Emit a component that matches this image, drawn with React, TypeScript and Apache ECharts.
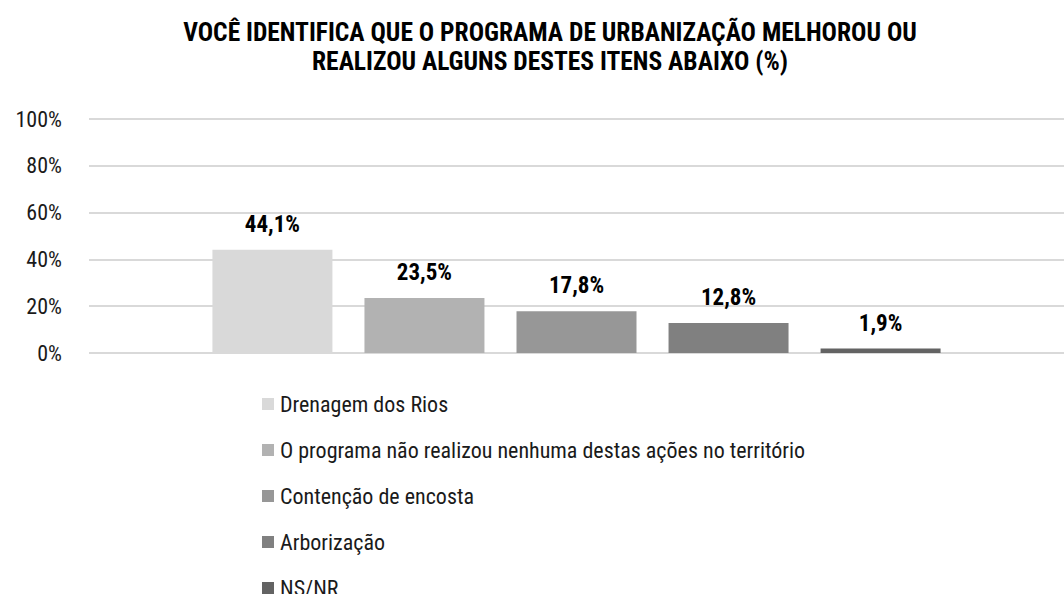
import React, { useEffect, useRef } from "react";
import * as echarts from "echarts";

const titleText =
  "VOCÊ IDENTIFICA QUE O PROGRAMA DE URBANIZAÇÃO MELHOROU OU\nREALIZOU ALGUNS DESTES ITENS ABAIXO (%)";
const seriesNames = [
  "Drenagem dos Rios",
  "O programa não realizou nenhuma destas ações no território",
  "Contenção de encosta",
  "Arborização",
  "NS/NR",
];
const seriesValues = [44.1, 23.5, 17.8, 12.8, 1.9];
const seriesColors = ["#d9d9d9", "#b2b2b2", "#979797", "#808080", "#636363"];
const yTicks = [0, 20, 40, 60, 80, 100];

const FONT = "'Roboto Condensed', 'DejaVu Sans Condensed', sans-serif";

export default function App() {
  const ref = useRef<HTMLDivElement>(null);
  useEffect(() => {
    if (!ref.current) return;
    const chart = echarts.init(ref.current, undefined, { renderer: "svg" });
    chart.setOption({
      animation: false,
      textStyle: { fontFamily: FONT },
      title: {
        text: titleText,
        left: 545,
        top: 12,
        textAlign: "center",
        textStyle: {
          fontFamily: FONT,
          fontSize: 25.5,
          fontWeight: "bold",
          color: "#000",
          lineHeight: 29,
        },
      },
      grid: { left: 89, width: 986, top: 119, bottom: 241 },
      xAxis: {
        type: "category",
        data: [""],
        axisLine: { show: false },
        axisTick: { show: false },
        axisLabel: { show: false },
      },
      yAxis: {
        type: "value",
        min: yTicks[0],
        max: yTicks[yTicks.length - 1],
        interval: 20,
        axisLabel: {
          formatter: "{value}%",
          fontFamily: FONT,
          fontSize: 22,
          color: "#1a1a1a",
          margin: 27,
        },
        splitLine: { lineStyle: { color: "#d9d9d9", width: 2 } },
        axisLine: { show: false },
        axisTick: { show: false },
      },
      legend: {
        orient: "vertical",
        left: 257,
        top: 388,
        height: 260,
        itemWidth: 12,
        itemHeight: 12,
        itemGap: 24,
        icon: "rect",
        data: seriesNames,
        textStyle: {
          fontFamily: FONT,
          fontSize: 22,
          color: "#1a1a1a",
          lineHeight: 22,
          padding: [0, 0, 0, 1],
        },
      },
      series: seriesNames.map((name, i) => ({
        name,
        type: "bar",
        data: [seriesValues[i]],
        barWidth: 120,
        barGap: "26.7%",
        itemStyle: { color: seriesColors[i] },
        label: {
          show: true,
          position: "top",
          distance: 14,
          formatter: (p: any) => p.value.toFixed(1).replace(".", ",") + "%",
          fontFamily: FONT,
          fontSize: 23,
          fontWeight: "bold",
          color: "#000",
        },
      })),
    });
    return () => chart.dispose();
  }, []);
  return (
    <div
      ref={ref}
      style={{ position: "fixed", left: 0, top: 0, width: 1064, height: 594, background: "#fff" }}
    />
  );
}
